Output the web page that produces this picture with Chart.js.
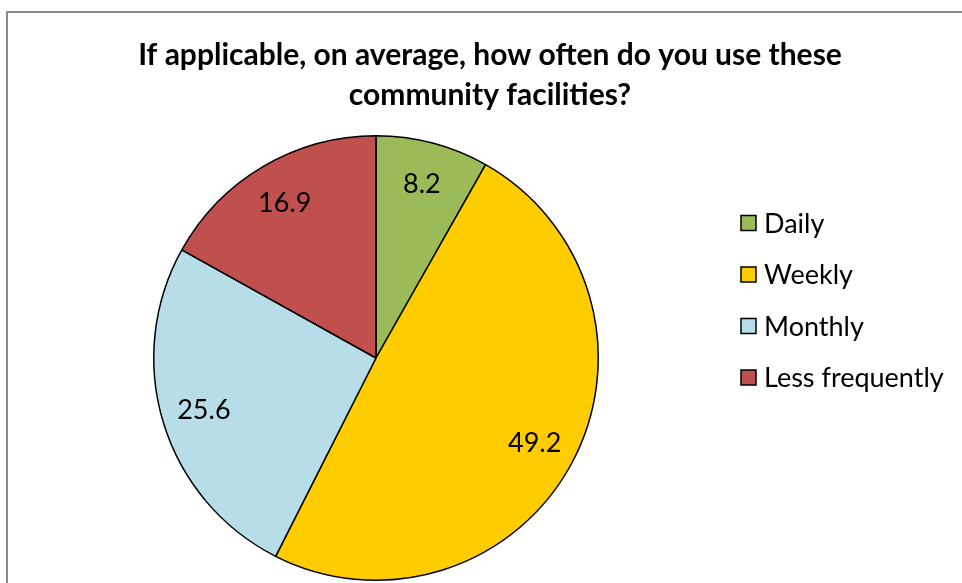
<!DOCTYPE html>
<html>
<head>
<meta charset="utf-8">
<script src="https://cdn.jsdelivr.net/npm/chart.js@4.4.1/dist/chart.umd.min.js"></script>
<style>
  html, body { margin: 0; padding: 0; background: #fff; }
  #wrap { position: relative; width: 962px; height: 583px; }
</style>
</head>
<body>
<div id="wrap"><canvas id="grafico" width="962" height="583"></canvas></div>
<script>
// Dados do gráfico
var categorias = ['Daily', 'Weekly', 'Monthly', 'Less frequently'];
var valores = [8.2, 49.2, 25.6, 16.9];
var cores = ['#9BBB59', '#FFCC00', '#B7DEE8', '#C0504D'];
var titulo = ['If applicable, on average, how often do you use these', 'community facilities?'];

var fonte = 'Lato, Carlito, Calibri, sans-serif';

// Moldura, título e legenda desenhados à mão (estilo Excel)
var decoracao = {
    id: 'decoracao',
    beforeDraw: function(chart) {
        var ctx = chart.ctx;
        ctx.save();
        ctx.fillStyle = '#fff';
        ctx.fillRect(0, 0, chart.width, chart.height);
        ctx.strokeStyle = '#8a8a8a';
        ctx.lineWidth = 2;
        ctx.strokeRect(7, 12, 1000, 1000);
        ctx.restore();
    },
    afterDraw: function(chart) {
        var ctx = chart.ctx;
        ctx.save();
        // título
        ctx.fillStyle = '#000';
        ctx.textAlign = 'center';
        ctx.textBaseline = 'middle';
        ctx.font = 'bold 30px ' + fonte;
        titulo.forEach(function(linha, i) {
            ctx.fillText(linha, 490, 55 + i * 40);
        });
        // legenda
        ctx.font = '27px ' + fonte;
        ctx.textAlign = 'left';
        var ds = chart.data.datasets[0];
        chart.data.labels.forEach(function(lbl, i) {
            var y = 223 + i * 51.5;
            ctx.fillStyle = ds.backgroundColor[i];
            ctx.fillRect(741, y - 7.5, 15, 15);
            ctx.strokeStyle = '#000';
            ctx.lineWidth = 1.5;
            ctx.strokeRect(741, y - 7.5, 15, 15);
            ctx.fillStyle = '#000';
            ctx.fillText(lbl, 764, y + 1);
        });
        ctx.restore();
    }
};

// Rótulos dos valores dentro das fatias
var rotulos = {
    id: 'rotulos',
    afterDatasetsDraw: function(chart) {
        var ctx = chart.ctx;
        var meta = chart.getDatasetMeta(0);
        ctx.save();
        ctx.font = '27px ' + fonte;
        ctx.fillStyle = '#000';
        ctx.textAlign = 'center';
        ctx.textBaseline = 'middle';
        meta.data.forEach(function(arc, i) {
            var p = arc.getProps(['x', 'y', 'startAngle', 'endAngle', 'outerRadius'], true);
            var meio = (p.startAngle + p.endAngle) / 2;
            var r = p.outerRadius * 0.81;
            ctx.fillText(valores[i].toFixed(1), p.x + Math.cos(meio) * r, p.y + Math.sin(meio) * r);
        });
        ctx.restore();
    }
};

var ctx = document.getElementById('grafico').getContext('2d');
var grafico = new Chart(ctx, {
    type: 'pie',
    data: {
        labels: categorias,
        datasets: [{
            data: valores,
            backgroundColor: cores,
            borderColor: '#000',
            borderWidth: 1.5
        }]
    },
    options: {
        responsive: false,
        animation: false,
        layout: {
            padding: { left: 0, right: 210, top: 135, bottom: 2 }
        },
        plugins: {
            legend: { display: false },
            title: { display: false },
            tooltip: { enabled: false }
        }
    },
    plugins: [decoracao, rotulos]
});
</script>
</body>
</html>
